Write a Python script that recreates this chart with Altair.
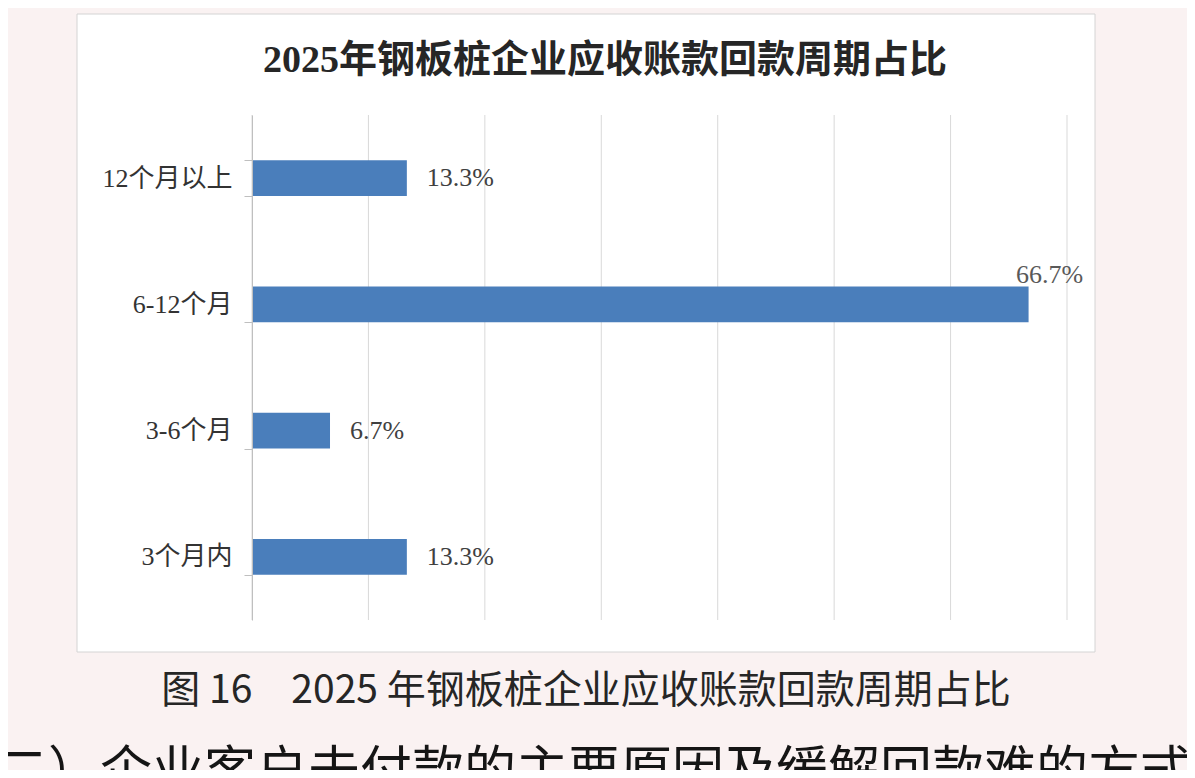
import altair as alt
import pandas as pd

# ---- data ----
categories = ["12个月以上", "6-12个月", "3-6个月", "3个月内"]
shares = [13.3, 66.7, 6.7, 13.3]
grid_ticks = [0, 10, 20, 30, 40, 50, 60, 70]

title_text = "2025年钢板桩企业应收账款回款周期占比"
caption_text = "图 16\u30002025 年钢板桩企业应收账款回款周期占比"
next_heading = "（二）企业客户未付款的主要原因及缓解回款难的方式"

df = pd.DataFrame({
    "cat": categories,
    "share": shares,
    "label": [f"{v}%" for v in shares],
})
grid_df = pd.DataFrame({"tick": grid_ticks})
one = pd.DataFrame({"k": [0]})

SERIF = "Liberation Serif, Noto Sans CJK SC"
SANS = "Noto Sans CJK SC"

x_scale = alt.Scale(domain=[0, 70], nice=False, zero=True)
y_enc = alt.Y(
    "cat:N",
    sort=categories,
    scale=alt.Scale(paddingInner=0.715, paddingOuter=0.3575),
    axis=alt.Axis(
        title=None,
        grid=False,
        domain=True,
        domainColor="#bfbfbf",
        domainWidth=1,
        ticks=True,
        tickBand="extent",
        tickSize=8,
        tickColor="#bfbfbf",
        labelFont=SERIF,
        labelFontSize=26,
        labelColor="#333333",
        labelPadding=12,
        zindex=1,
    ),
)

box = alt.Chart(one).mark_rect(fill="white", stroke="#d4d4d4", strokeWidth=1).encode(
    x=alt.value(-175), x2=alt.value(843), y=alt.value(-101), y2=alt.value(537)
)

grid = alt.Chart(grid_df).mark_rule(color="#d9d9d9", strokeWidth=1).encode(
    x=alt.X("tick:Q", scale=x_scale, axis=None)
)

bars = alt.Chart(df).mark_bar(color="#4a7ebb").encode(
    x=alt.X("share:Q", scale=x_scale, axis=None),
    y=y_enc,
)

small_labels = alt.Chart(df).transform_filter("datum.share < 50").mark_text(
    align="left", baseline="middle", dx=20, font=SERIF, fontSize=26, color="#404040"
).encode(
    x=alt.X("share:Q", scale=x_scale, axis=None),
    y=alt.Y("cat:N", sort=categories),
    text="label:N",
)

big_labels = alt.Chart(df).transform_filter("datum.share >= 50").mark_text(
    align="center", baseline="middle", dx=21, dy=-29, font=SERIF, fontSize=26, color="#595959"
).encode(
    x=alt.X("share:Q", scale=x_scale, axis=None),
    y=alt.Y("cat:N", sort=categories),
    text="label:N",
)

title = alt.Chart(one).mark_text(
    align="center", baseline="middle", font=SERIF, fontSize=38, fontWeight="bold", color="#262626"
).encode(x=alt.value(353), y=alt.value(-54), text=alt.value(title_text))

caption = alt.Chart(one).mark_text(
    align="center", baseline="middle", font=SANS, fontSize=39, color="#262626"
).encode(x=alt.value(334), y=alt.value(576), text=alt.value(caption_text))

heading = alt.Chart(one).mark_text(
    align="left", baseline="middle", font=SANS, fontSize=52, color="#151515"
).encode(x=alt.value(-308), y=alt.value(658), text=alt.value(next_heading))

chart = alt.layer(
    box, grid, bars, small_labels, big_labels, title, caption, heading
).properties(
    width=815,
    height=505,
    autosize=alt.AutoSizeParams(type="none"),
    padding={"left": 244, "top": 107, "right": 120, "bottom": 150},
    background="#faf2f2",
).configure_view(stroke=None)

chart.save("out.html", embed_options={"renderer": "svg", "actions": False})
